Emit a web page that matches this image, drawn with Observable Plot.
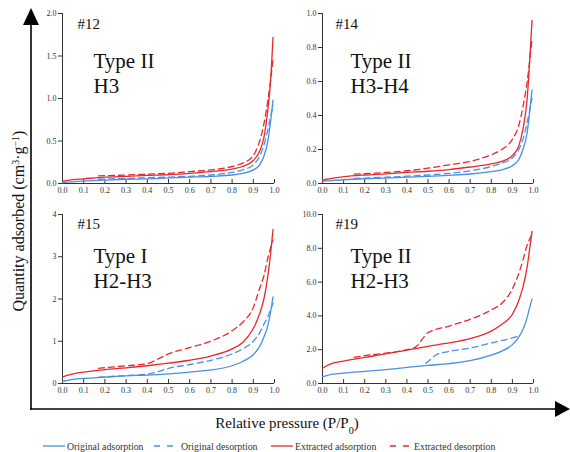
<!DOCTYPE html>
<html><head><meta charset="utf-8">
<script src="https://cdn.jsdelivr.net/npm/d3@7"></script>
<script src="https://cdn.jsdelivr.net/npm/@observablehq/plot@0.6"></script>
<style>
html,body{margin:0;padding:0;background:#fff;}
#root{position:relative;width:570px;height:452px;overflow:hidden;font-family:"Liberation Serif","Times New Roman",serif;}
.panel{position:absolute;}
#deco{position:absolute;left:0;top:0;}
</style></head><body><div id="root"><svg id="deco" width="570" height="452"></svg></div>
<script>
const BLUE = "#4a8fe3", RED = "#e8282c";
const X_TICKS = [0, 0.1, 0.2, 0.3, 0.4, 0.5, 0.6, 0.7, 0.8, 0.9, 1.0];
const P_ADS = [0, 0.02, 0.05, 0.1, 0.2, 0.3, 0.4, 0.5, 0.6, 0.7, 0.8, 0.85, 0.9, 0.93, 0.95, 0.97, 0.98, 0.993];

// #12
const Y12 = [0, 0.5, 1.0, 1.5, 2.0];
const p12OrigAds = [0.01, 0.015, 0.02, 0.03, 0.04, 0.05, 0.055, 0.065, 0.075, 0.085, 0.10, 0.12, 0.16, 0.22, 0.32, 0.52, 0.70, 0.98];
const p12ExtAds  = [0.025, 0.035, 0.045, 0.055, 0.075, 0.085, 0.095, 0.105, 0.12, 0.14, 0.17, 0.20, 0.27, 0.38, 0.54, 0.90, 1.15, 1.72];
const p12DesP    = [0.17, 0.3, 0.4, 0.5, 0.6, 0.7, 0.8, 0.85, 0.9, 0.93, 0.95, 0.97, 0.993];
const p12OrigDes = [0.05, 0.06, 0.068, 0.075, 0.085, 0.10, 0.13, 0.16, 0.22, 0.32, 0.45, 0.65, 0.92];
const p12ExtDes  = [0.09, 0.10, 0.11, 0.12, 0.14, 0.16, 0.20, 0.24, 0.33, 0.50, 0.70, 1.00, 1.45];

// #14
const Y14 = [0, 0.2, 0.4, 0.6, 0.8, 1.0];
const p14OrigAds = [0.012, 0.015, 0.018, 0.022, 0.028, 0.032, 0.037, 0.042, 0.048, 0.056, 0.07, 0.08, 0.105, 0.14, 0.20, 0.30, 0.40, 0.55];
const p14ExtAds  = [0.02, 0.025, 0.032, 0.04, 0.05, 0.057, 0.065, 0.072, 0.082, 0.097, 0.115, 0.13, 0.165, 0.22, 0.32, 0.50, 0.68, 0.96];
const p14DesP    = [0.15, 0.3, 0.4, 0.5, 0.6, 0.7, 0.8, 0.85, 0.9, 0.93, 0.95, 0.97, 0.993];
const p14OrigDes = [0.03, 0.037, 0.043, 0.05, 0.06, 0.075, 0.10, 0.12, 0.15, 0.20, 0.26, 0.36, 0.50];
const p14ExtDes  = [0.055, 0.065, 0.075, 0.09, 0.11, 0.13, 0.17, 0.20, 0.26, 0.34, 0.45, 0.60, 0.85];

// #15
const Y15 = [0, 1, 2, 3, 4];
const p15OrigAds = [0.05, 0.07, 0.10, 0.12, 0.15, 0.18, 0.20, 0.23, 0.27, 0.32, 0.42, 0.52, 0.68, 0.88, 1.10, 1.40, 1.65, 2.05];
const p15ExtAds  = [0.15, 0.19, 0.23, 0.27, 0.33, 0.37, 0.42, 0.48, 0.55, 0.65, 0.82, 0.97, 1.30, 1.65, 2.00, 2.60, 3.00, 3.65];
const p15DesP    = [0.17, 0.3, 0.4, 0.45, 0.5, 0.6, 0.7, 0.8, 0.85, 0.9, 0.93, 0.95, 0.97, 0.993];
const p15OrigDes = [0.15, 0.19, 0.22, 0.28, 0.36, 0.45, 0.55, 0.70, 0.82, 1.00, 1.20, 1.40, 1.60, 1.90];
const p15ExtDes  = [0.36, 0.42, 0.47, 0.58, 0.70, 0.85, 1.00, 1.25, 1.45, 1.80, 2.25, 2.55, 3.00, 3.40];

// #19
const Y19 = [0, 2, 4, 6, 8, 10];
const p19OrigAds = [0.40, 0.47, 0.55, 0.62, 0.72, 0.82, 0.95, 1.07, 1.18, 1.35, 1.68, 1.92, 2.30, 2.75, 3.20, 3.90, 4.40, 5.00];
const p19ExtAds  = [0.90, 1.05, 1.20, 1.33, 1.55, 1.75, 1.98, 2.20, 2.40, 2.65, 3.10, 3.50, 4.10, 4.90, 5.70, 6.90, 7.80, 9.00];
const p19OrigDesP = [0.49, 0.5, 0.54, 0.6, 0.7, 0.8, 0.9, 0.92];
const p19OrigDes  = [1.20, 1.30, 1.70, 1.90, 2.10, 2.40, 2.70, 2.78];
const p19ExtDesP  = [0.15, 0.2, 0.3, 0.4, 0.44, 0.5, 0.6, 0.7, 0.8, 0.85, 0.9, 0.93, 0.95, 0.97, 0.993];
const p19ExtDes   = [1.55, 1.65, 1.80, 2.00, 2.15, 3.00, 3.40, 3.80, 4.35, 4.75, 5.60, 6.50, 7.30, 8.20, 8.80];

const rows = (xs, ys) => xs.map((p, i) => ({p, q: ys[i]}));

function panel(cfg) {
  const W = 250, H = cfg.h, mt = 8, mb = 17, ml = 30, mr = cfg.mr;
  const innerH = H - mt - mb;
  const L = {x: "p", y: "q", strokeWidth: 1.3, curve: "monotone-x"};
  const D = {...L, strokeDasharray: "6,4"};
  const txt = (s, dx, dy, size) => Plot.text([s], {text: d => d, frameAnchor: "top-left", dx, dy, textAnchor: "start", lineAnchor: "bottom", fontSize: size, fill: "#111"});
  const svg = Plot.plot({
    width: W, height: H, marginTop: mt, marginBottom: mb, marginLeft: ml, marginRight: mr,
    x: {domain: [0, 1]},
    y: {domain: [0, cfg.ymax]},
    style: {fontFamily: "Liberation Serif, serif", fontSize: "8px", color: "#333", background: "transparent", overflow: "visible"},
    marks: [
      Plot.axisY({ticks: cfg.yticks, tickSize: 4, tickPadding: 2, tickFormat: d3.format(cfg.fmt), label: null}),
      Plot.axisX({ticks: X_TICKS, tickSize: 0, tickPadding: 4, tickFormat: d3.format(".1f"), label: null}),
      Plot.tickX(X_TICKS, {x: d => d, insetTop: innerH - 4, stroke: "#333"}),
      Plot.ruleX([0], {stroke: "#333"}),
      Plot.ruleY([0], {stroke: "#333"}),
      Plot.line(rows(P_ADS, cfg.origAds), {...L, stroke: BLUE}),
      Plot.line(rows(cfg.origDesP, cfg.origDes), {...D, stroke: BLUE}),
      Plot.line(rows(P_ADS, cfg.extAds), {...L, stroke: RED}),
      Plot.line(rows(cfg.extDesP, cfg.extDes), {...D, stroke: RED}),
      txt(cfg.id, cfg.idDx, cfg.idDy, 15),
      txt(cfg.type, cfg.tDx, cfg.tDy, 21),
      txt(cfg.hyst, cfg.tDx, cfg.tDy + 25, 21)
    ]
  });
  svg.classList.add("panel");
  svg.style.left = cfg.left + "px";
  svg.style.top = cfg.top + "px";
  document.getElementById("root").appendChild(svg);
}

panel({left: 32, top: 5, h: 195, mr: 8, ymax: 2, yticks: Y12, fmt: ".1f",
  origAds: p12OrigAds, extAds: p12ExtAds, origDesP: p12DesP, origDes: p12OrigDes, extDesP: p12DesP, extDes: p12ExtDes,
  id: "#12", type: "Type II", hyst: "H3", idDx: 15, idDy: 15, tDx: 31, tDy: 54});
panel({left: 292, top: 5, h: 195, mr: 9, ymax: 1, yticks: Y14, fmt: ".1f",
  origAds: p14OrigAds, extAds: p14ExtAds, origDesP: p14DesP, origDes: p14OrigDes, extDesP: p14DesP, extDes: p14ExtDes,
  id: "#14", type: "Type II", hyst: "H3-H4", idDx: 13, idDy: 15, tDx: 28, tDy: 54});
panel({left: 32, top: 206, h: 194, mr: 8, ymax: 4, yticks: Y15, fmt: "d",
  origAds: p15OrigAds, extAds: p15ExtAds, origDesP: p15DesP, origDes: p15OrigDes, extDesP: p15DesP, extDes: p15ExtDes,
  id: "#15", type: "Type I", hyst: "H2-H3", idDx: 15, idDy: 14, tDx: 31, tDy: 48});
panel({left: 292, top: 206, h: 194, mr: 9, ymax: 10, yticks: Y19, fmt: ".1f",
  origAds: p19OrigAds, extAds: p19ExtAds, origDesP: p19OrigDesP, origDes: p19OrigDes, extDesP: p19ExtDesP, extDes: p19ExtDes,
  id: "#19", type: "Type II", hyst: "H2-H3", idDx: 13, idDy: 14, tDx: 28, tDy: 48});

// decorations: big axes, titles, legend
const deco = d3.select("#deco");
deco.append("line").attr("x1", 31).attr("y1", 22).attr("x2", 31).attr("y2", 409.8).attr("stroke", "#000").attr("stroke-width", 1.6);
deco.append("line").attr("x1", 30.2).attr("y1", 409).attr("x2", 558).attr("y2", 409).attr("stroke", "#000").attr("stroke-width", 1.6);
deco.append("polygon").attr("points", "31,8 23,25 39,25").attr("fill", "#000");
deco.append("polygon").attr("points", "570,409 555,401 555,417").attr("fill", "#000");

const yt = deco.append("text").attr("transform", "translate(24,221) rotate(-90)").attr("text-anchor", "middle")
  .attr("font-family", "Liberation Serif, serif").attr("font-size", 16).attr("fill", "#111");
yt.append("tspan").text("Quantity adsorbed (cm");
yt.append("tspan").attr("baseline-shift", "super").attr("font-size", 10).text("3");
yt.append("tspan").text("·g");
yt.append("tspan").attr("baseline-shift", "super").attr("font-size", 10).text("−1");
yt.append("tspan").text(")");

const xt = deco.append("text").attr("x", 287).attr("y", 428).attr("text-anchor", "middle")
  .attr("font-family", "Liberation Serif, serif").attr("font-size", 15).attr("fill", "#111");
xt.append("tspan").text("Relative pressure (P/P");
xt.append("tspan").attr("baseline-shift", "sub").attr("font-size", 10).text("0");
xt.append("tspan").text(")");

const LEGEND = [
  {label: "Original adsorption", color: BLUE, dash: null, x0: 43, x1: 65, tx: 67},
  {label: "Original desorption", color: BLUE, dash: "6,7", x0: 154, x1: 173, tx: 181},
  {label: "Extracted adsorption", color: RED, dash: null, x0: 271, x1: 293, tx: 295},
  {label: "Extracted desorption", color: RED, dash: "6,7", x0: 390, x1: 409, tx: 414}
];
const lg = deco.append("g");
for (const it of LEGEND) {
  lg.append("line").attr("x1", it.x0).attr("x2", it.x1).attr("y1", 446).attr("y2", 446)
    .attr("stroke", it.color).attr("stroke-width", 1.3).attr("stroke-dasharray", it.dash);
  lg.append("text").attr("x", it.tx).attr("y", 449.5).attr("font-family", "Liberation Serif, serif")
    .attr("font-size", 9.8).attr("fill", "#333").text(it.label);
}
</script></body></html>
